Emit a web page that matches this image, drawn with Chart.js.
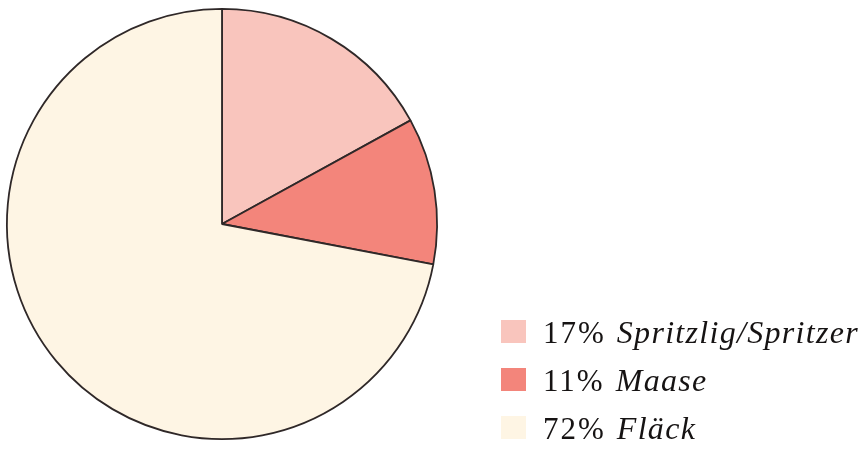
<!DOCTYPE html>
<html>
<head>
<meta charset="utf-8">
<script src="https://cdn.jsdelivr.net/npm/chart.js@4"></script>
<style>
  html, body { margin: 0; padding: 0; background: #ffffff; }
  #wrap { position: relative; width: 866px; height: 449px; }
</style>
</head>
<body>
<div id="wrap"><canvas id="pie"></canvas></div>
<script>
// Share of the three categories, in percent
const categories = ["Spritzlig/Spritzer", "Maase", "Fläck"];
const shares = [17, 11, 72];
const sliceColors = ["#f9c5bd", "#f3857b", "#fef5e4"];

const serif = "'Liberation Serif', 'Times New Roman', serif";

// Legend drawn in the lower right: swatch, upright percentage, italic name
const sideLegend = {
  id: "sideLegend",
  afterDraw(chart) {
    const ctx = chart.ctx;
    const ds = chart.data.datasets[0];
    const x0 = 501, y0 = 320, step = 48;
    ctx.save();
    ctx.textBaseline = "alphabetic";
    ctx.textAlign = "left";
    chart.data.labels.forEach((name, i) => {
      const y = y0 + i * step;
      ctx.fillStyle = ds.backgroundColor[i];
      ctx.fillRect(x0, y, 25, 23);
      ctx.fillStyle = "#161313";
      const base = y + 23;
      ctx.font = "31px " + serif;
      ctx.letterSpacing = "2px";
      const pct = ds.data[i] + "%";
      ctx.fillText(pct, 543, base);
      const w = ctx.measureText(pct).width;
      ctx.font = "italic 32px " + serif;
      ctx.letterSpacing = "1.3px";
      ctx.fillText(name, 543 + w + 11, base);
    });
    ctx.restore();
  }
};

new Chart(document.getElementById("pie"), {
  type: "pie",
  data: {
    labels: categories,
    datasets: [{
      data: shares,
      backgroundColor: sliceColors,
      borderColor: "#2f2828",
      borderWidth: 1.8
    }]
  },
  options: {
    responsive: true,
    maintainAspectRatio: false,
    animation: false,
    rotation: 0,
    layout: { padding: { left: 6, top: 8, right: 428, bottom: 9 } },
    plugins: {
      legend: { display: false },
      tooltip: { enabled: false }
    }
  },
  plugins: [sideLegend]
});
</script>
</body>
</html>
